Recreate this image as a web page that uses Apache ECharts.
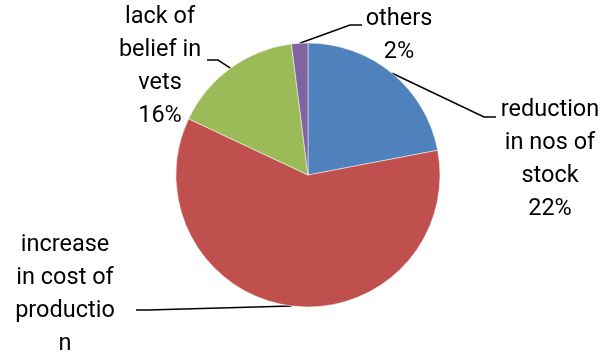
<!DOCTYPE html>
<html><head><meta charset="utf-8">
<script src="https://cdn.jsdelivr.net/npm/echarts@6/dist/echarts.min.js"></script>
<style>html,body{margin:0;padding:0;background:#fff}#c{width:605px;height:360px}</style>
</head><body><div id="c"></div>
<script>
const categories = ["reduction\nin nos of\nstock", "increase\nin cost of\nproductio\nn", "lack of\nbelief in\nvets", "others"];
const values = [22, 60, 16, 2];
const colors = ["#4F81BD", "#C0504D", "#9BBB59", "#8064A2"];
// label layout: text block centres, leader end points and elbow offsets
const labelPos = [[550, 160], [65, 311], [160, 67], [399, 36]];
const leaderEnd = [[496, 117], [136, 310], [207, 60], [362, 25]];
const elbowDx = [-12, 12, 11, -12];

const chart = echarts.init(document.getElementById('c'), null, {renderer: 'canvas'});
chart.setOption({
  animation: false,
  backgroundColor: '#fff',
  series: [{
    type: 'pie',
    center: [308, 175],
    radius: 132,
    startAngle: 90,
    clockwise: true,
    avoidLabelOverlap: false,
    itemStyle: {borderColor: '#fff', borderWidth: 0.5},
    label: {
      show: true,
      position: 'outside',
      formatter: p => p.name + '\n' + p.value + '%',
      fontFamily: 'Roboto',
      fontSize: 23.5,
      lineHeight: 33,
      color: '#000',
      align: 'center'
    },
    labelLine: {show: true, length: 10, length2: 10, lineStyle: {color: '#000', width: 1.5}},
    labelLayout: function (p) {
      const i = p.dataIndex;
      const pos = labelPos[i];
      const start = p.labelLinePoints ? p.labelLinePoints[0] : null;
      const end = leaderEnd[i];
      const out = {x: pos[0], y: pos[1], align: 'center', verticalAlign: 'middle'};
      if (start) {
        out.labelLinePoints = [start, [end[0] + elbowDx[i], end[1]], end];
      }
      return out;
    },
    emphasis: {disabled: true},
    data: categories.map((c, i) => ({name: c, value: values[i], itemStyle: {color: colors[i]}}))
  }]
});
</script></body></html>
